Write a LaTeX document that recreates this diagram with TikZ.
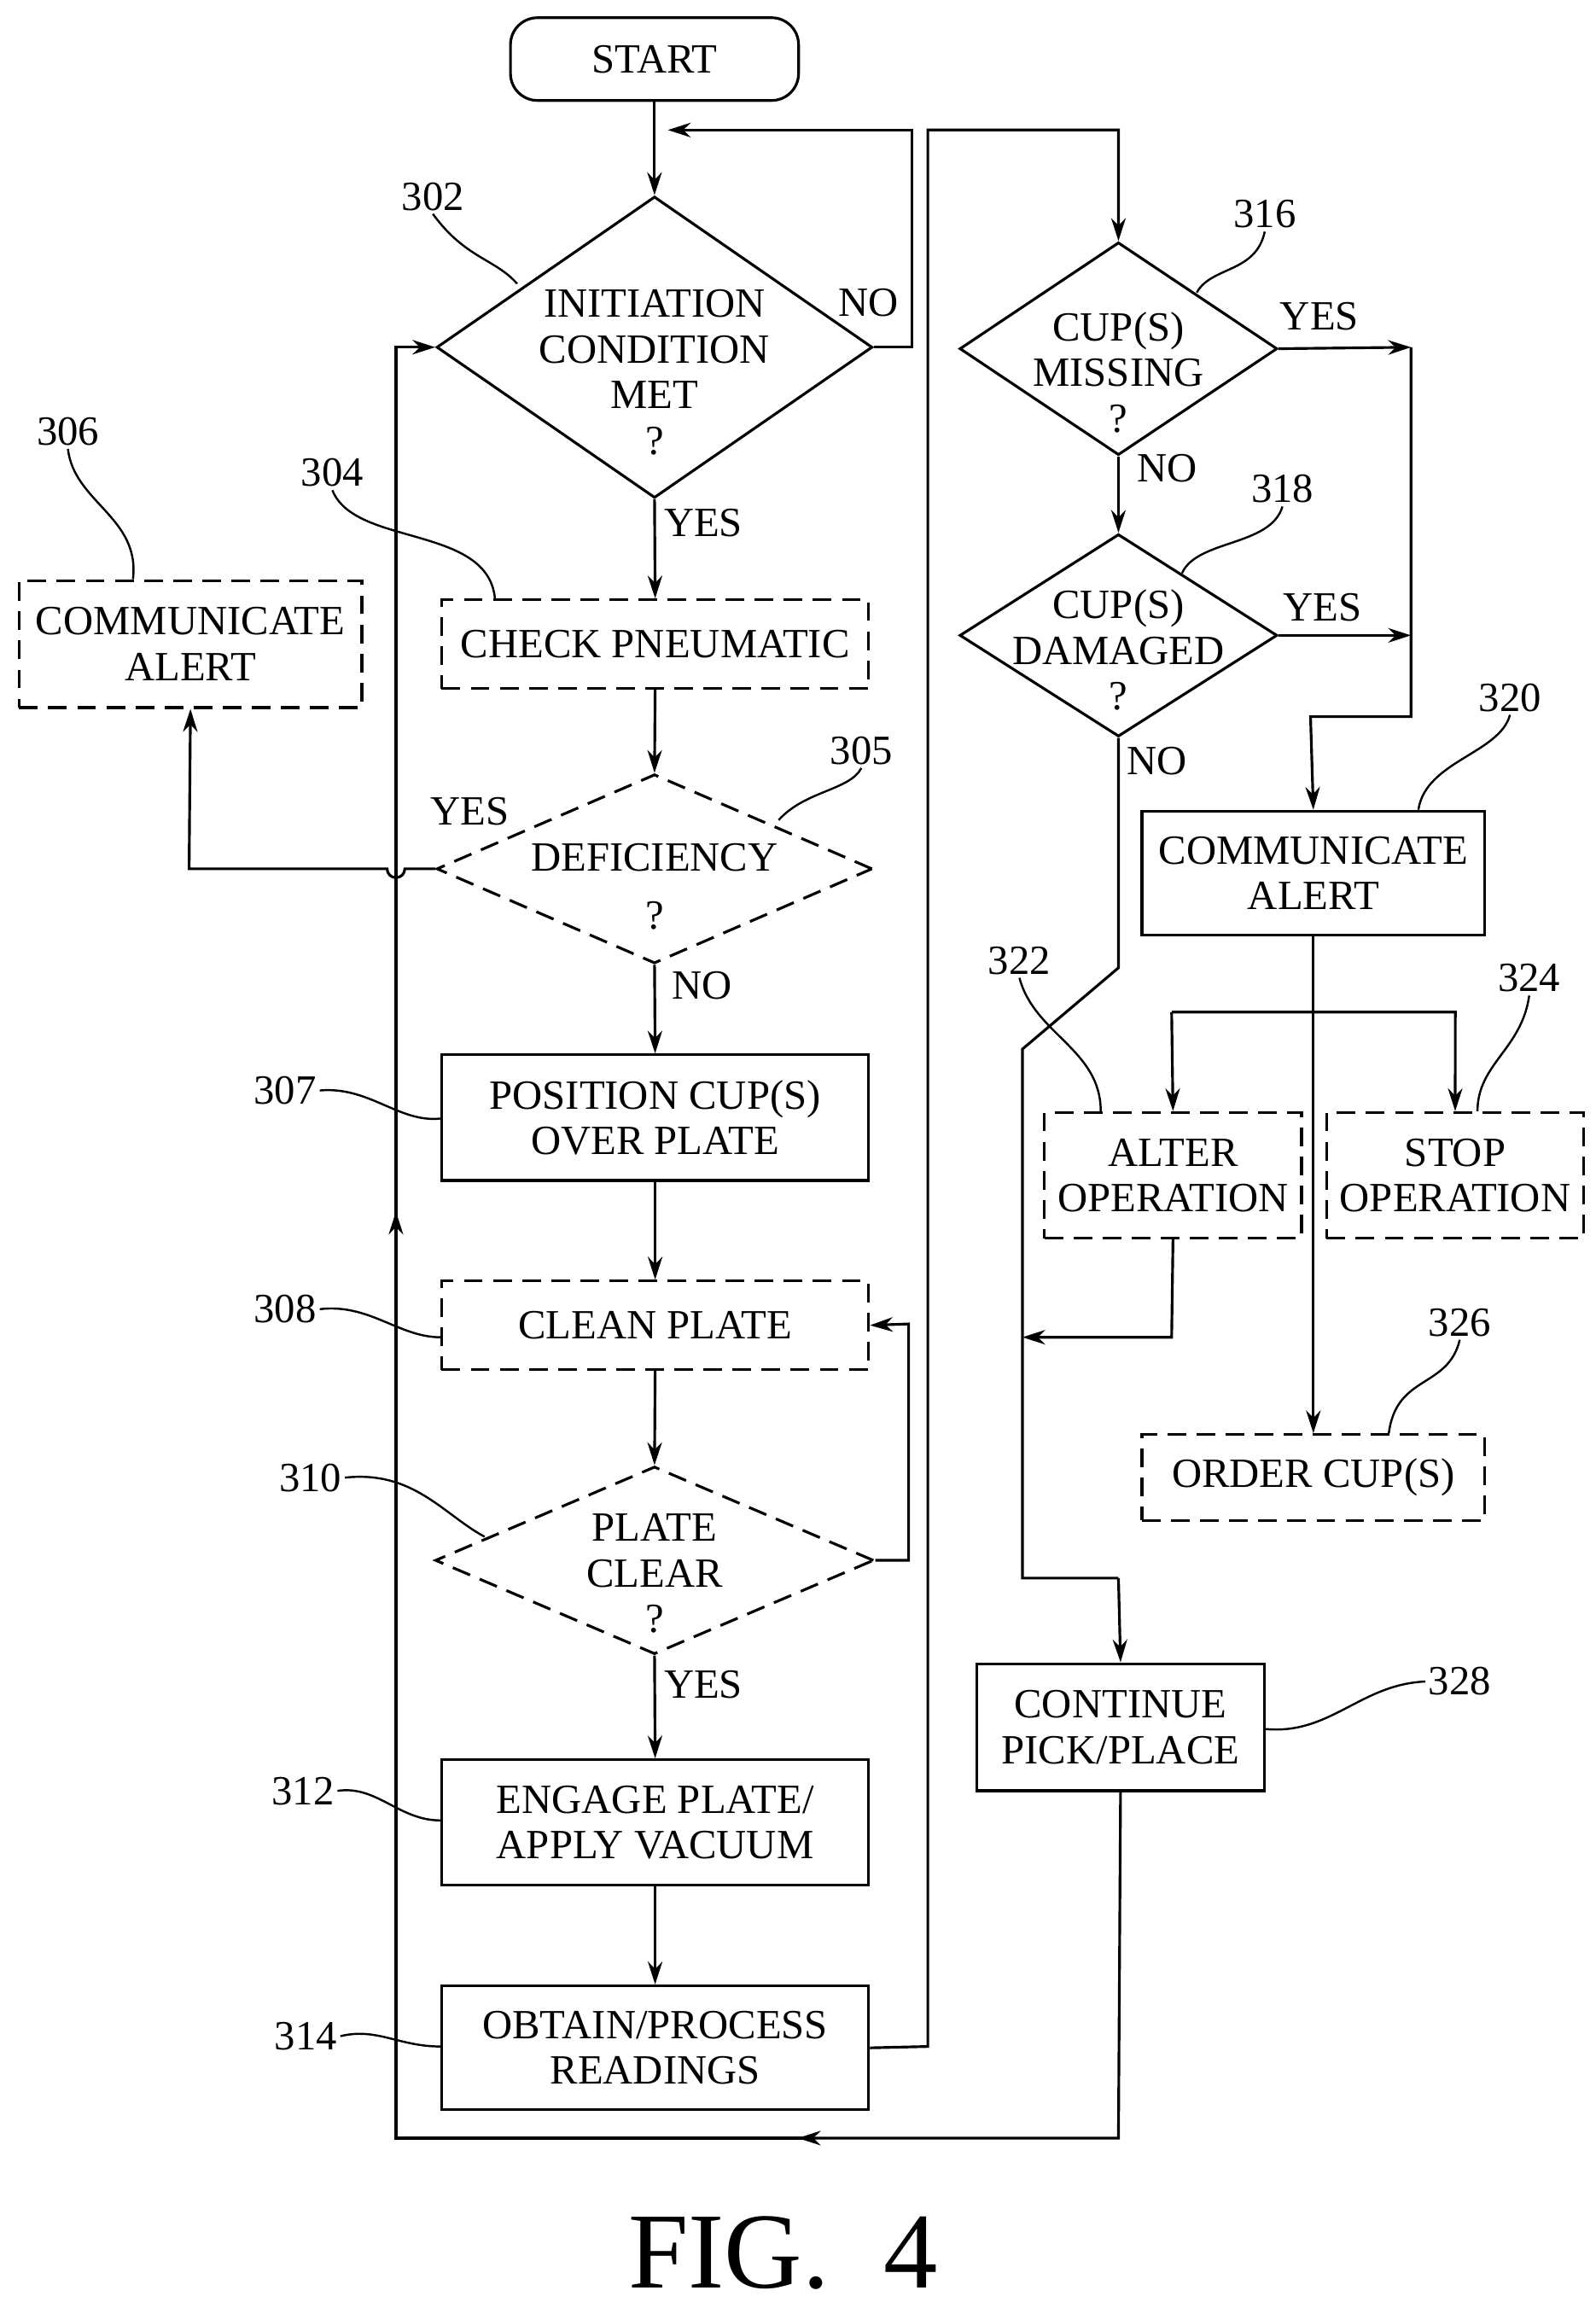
\documentclass[tikz,border=0pt]{standalone}
\usepackage{fontspec}
\setmainfont{Liberation Serif}
\usetikzlibrary{shapes.geometric,arrows.meta}
\begin{document}
\begin{tikzpicture}[x=0.025cm,y=-0.025cm,line width=1.3pt,
 every node/.style={font=\fontsize{20}{22}\selectfont},
 box/.style={draw,rectangle,inner sep=0,anchor=north west},
 dbox/.style={box,dashed,dash pattern=on 9pt off 5pt},
 dia/.style={draw,diamond,inner sep=0},
 ddia/.style={dia,dashed,dash pattern=on 9pt off 5pt},
 txt/.style={align=center,inner sep=0},
 arr/.style={-{Stealth[length=11pt,width=7pt]}},
 num/.style={inner sep=1pt}]
\useasboundingbox (0,0) rectangle (1080,1562);
% start
\node[draw,rounded corners=13pt,minimum width=195*0.025cm,minimum height=56*0.025cm] (start) at (443,40) {START};
% 302
\node[dia,minimum width=295*0.025cm,minimum height=204*0.025cm] (d302) at (443,235) {};
\node[txt] (t302) at (443,252) {INITIATION\\CONDITION\\MET\\?};
\node[num] (n302) at (293,133) {302};
\node (no302) at (588,205) {NO};
\node (yes302) at (476,354) {YES};
% 304
\node[dbox,minimum width=289*0.025cm,minimum height=60*0.025cm] (b304) at (298,405) {};
\node at (b304.center) {CHECK PNEUMATIC};
\node[num] (n304) at (225,320) {304};
% 305
\node[ddia,minimum width=295*0.025cm,minimum height=128*0.025cm] (d305) at (443,588) {};
\node[txt] (t305) at (443,600) {DEFICIENCY\\[6pt]?};
\node[num] (n305) at (583,508) {305};
\node (yes305) at (318,549) {YES};
\node (no305) at (475,667) {NO};
% 306
\node[dbox,minimum width=232*0.025cm,minimum height=86*0.025cm] (b306) at (12,392) {};
\node[txt] at (b306.center) {COMMUNICATE\\ALERT};
\node[num] (n306) at (46,292) {306};
% 307
\node[box,minimum width=289*0.025cm,minimum height=85*0.025cm] (b307) at (298,713) {};
\node[txt] at (b307.center) {POSITION CUP(S)\\OVER PLATE};
\node[num] (n307) at (193,738) {307};
% 308
\node[dbox,minimum width=289*0.025cm,minimum height=60*0.025cm] (b308) at (298,866) {};
\node at (b308.center) {CLEAN PLATE};
\node[num] (n308) at (193,886) {308};
% 310
\node[ddia,minimum width=297*0.025cm,minimum height=127*0.025cm] (d310) at (443,1056) {};
\node[txt] (t310) at (443,1065) {PLATE\\CLEAR\\?};
\node[num] (n310) at (210,1000) {310};
\node (yes310) at (476,1140) {YES};
% 312
\node[box,minimum width=289*0.025cm,minimum height=85*0.025cm] (b312) at (298,1190) {};
\node[txt] at (b312.center) {ENGAGE PLATE/\\APPLY VACUUM};
\node[num] (n312) at (205,1212) {312};
% 314
\node[box,minimum width=289*0.025cm,minimum height=84*0.025cm] (b314) at (298,1343) {};
\node[txt] at (b314.center) {OBTAIN/PROCESS\\READINGS};
\node[num] (n314) at (207,1378) {314};
% 316
\node[dia,minimum width=215*0.025cm,minimum height=144*0.025cm] (d316) at (757,236) {};
\node[txt] (t316) at (757,252) {CUP(S)\\MISSING\\?};
\node[num] (n316) at (856,145) {316};
\node (yes316) at (893,214) {YES};
\node (no316) at (790,317) {NO};
% 318
\node[dia,minimum width=215*0.025cm,minimum height=137*0.025cm] (d318) at (757,430) {};
\node[txt] (t318) at (757,440) {CUP(S)\\DAMAGED\\?};
\node[num] (n318) at (868,331) {318};
\node (yes318) at (895,411) {YES};
\node (no318) at (783,515) {NO};
% 320
\node[box,minimum width=232*0.025cm,minimum height=84*0.025cm] (b320) at (772,548) {};
\node[txt] at (b320.center) {COMMUNICATE\\ALERT};
\node[num] (n320) at (1022,472) {320};
% 322, 324
\node[dbox,minimum width=174*0.025cm,minimum height=85*0.025cm] (b322) at (706,752) {};
\node[txt] at (b322.center) {ALTER\\OPERATION};
\node[num] (n322) at (690,650) {322};
\node[dbox,minimum width=174*0.025cm,minimum height=85*0.025cm] (b324) at (897,752) {};
\node[txt] at (b324.center) {STOP\\OPERATION};
\node[num] (n324) at (1035,662) {324};
% 326
\node[dbox,minimum width=232*0.025cm,minimum height=58*0.025cm] (b326) at (772,970) {};
\node at (b326.center) {ORDER CUP(S)};
\node[num] (n326) at (988,895) {326};
% 328
\node[box,minimum width=195*0.025cm,minimum height=86*0.025cm] (b328) at (660,1125) {};
\node[txt] at (b328.center) {CONTINUE\\PICK/PLACE};
\node[num] (n328) at (988,1138) {328};
\node[font=\fontsize{52}{54}\selectfont] (fig) at (530,1525) {FIG.\ \ 4};
% coordinates
\coordinate (j91) at (955,235);
\coordinate (j92) at (955,430);
\coordinate (j93) at (955,485);
\coordinate (bot) at (268,1447);
% main flow
\draw[arr] (start) -- (d302.north);
\draw[arr] (d302.east) -- (617,235) -- (617,88) -- (452,88);
\draw[arr] (d302.south) -- (b304.north);
\draw[arr] (b304.south) -- (d305.north);
\draw[arr] (d305.south) -- (b307.north);
\draw[arr] (b307.south) -- (b308.north);
\draw[arr] (b308.south) -- (d310.north);
\draw[arr] (d310.east) -- (615,1056) -- (615,896) -- (b308.east);
\draw[arr] (d310.south) -- (b312.north);
\draw[arr] (b312.south) -- (b314.north);
% deficiency yes
\draw[arr] (d305.west) -- (274,588) arc (0:180:6) -- (128,588) -- (b306.south);
% return loop
\draw[arr] (b328.south) -- (757,1447) -- (540,1447);
\draw (545,1447) -- (bot) -- (268,830);
\draw[arr] (bot) -- (268,820);
\draw[arr] (268,830) -- (268,235) -- (d302.west);
% 314 to right column
\draw[arr] (b314.east) -- (628,1385) -- (628,88) -- (757,88) -- (d316.north);
\draw[arr] (d316.south) -- (d318.north);
\draw[arr] (d316.east) -- (j91);
\draw[arr] (d318.east) -- (j92);
\draw[arr] (j91) -- (j93) -- (887,485) -- (b320.north);
\draw (d318.south) -- (757,655) -- (692,710) -- (692,1068) -- (757,1068);
\draw[arr] (757,1068) -- (b328.north);
\draw[arr] (b320.south) -- (b326.north);
\draw[arr] (793,685) -- (b322.north);
\draw[arr] (793,685) -- (985,685) -- (b324.north);
\draw[arr] (b322.south) -- (793,905) -- (692,905);
% callouts
\draw[line width=1pt] (n302.south) .. controls (315,175) and (335,175) .. (350,192);
\draw[line width=1pt] (n304.south) .. controls (240,370) and (330,355) .. (335,405);
\draw[line width=1pt] (n305.south) .. controls (575,535) and (545,535) .. (527,555);
\draw[line width=1pt] (n306.south) .. controls (50,340) and (95,350) .. (90,392);
\draw[line width=1pt] (n307.east) .. controls (250,735) and (270,760) .. (298,757);
\draw[line width=1pt] (n308.east) .. controls (250,882) and (270,905) .. (298,905);
\draw[line width=1pt] (n310.east) .. controls (280,995) and (300,1025) .. (328,1040);
\draw[line width=1pt] (n312.east) .. controls (255,1208) and (270,1232) .. (298,1232);
\draw[line width=1pt] (n314.east) .. controls (255,1372) and (270,1385) .. (298,1385);
\draw[line width=1pt] (n316.south) .. controls (850,185) and (820,180) .. (810,198);
\draw[line width=1pt] (n318.south) .. controls (860,370) and (810,365) .. (800,388);
\draw[line width=1pt] (n320.south) .. controls (1015,510) and (965,515) .. (960,548);
\draw[line width=1pt] (n322.south) .. controls (700,700) and (745,710) .. (745,752);
\draw[line width=1pt] (n324.south) .. controls (1030,710) and (1000,720) .. (1000,752);
\draw[line width=1pt] (n326.south) .. controls (980,940) and (945,930) .. (940,970);
\draw[line width=1pt] (n328.west) .. controls (920,1140) and (900,1175) .. (855,1170);
\end{tikzpicture}
\end{document}
